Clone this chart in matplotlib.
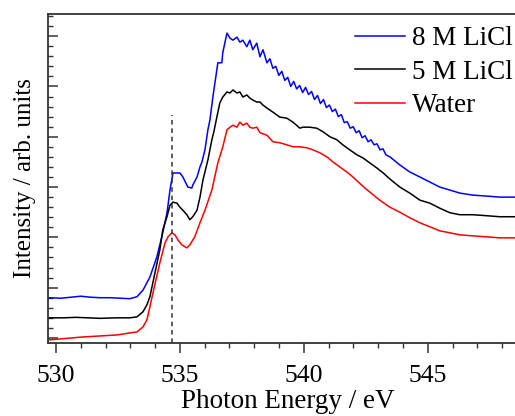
import matplotlib
matplotlib.use("Agg")
import matplotlib.pyplot as plt
from matplotlib.ticker import MultipleLocator

plt.rcParams['font.family'] = ['Liberation Serif', 'DejaVu Serif']

# O K-edge spectra (offset for clarity)
energy_8m = [529.68, 530.2, 530.6, 531.0, 531.4, 531.8, 532.2, 532.6, 532.98, 533.27,
             533.51, 533.79, 534.07, 534.29, 534.48, 534.60, 534.72, 535.00, 535.12, 535.32,
             535.48, 535.52, 535.69, 535.81, 535.89, 536.01, 536.13, 536.21, 536.33, 536.49,
             536.53, 536.69, 536.73, 536.81, 536.90, 537.02, 537.14, 537.30, 537.42, 537.54,
             537.70, 537.82, 537.94, 538.10, 538.23, 538.35, 538.51, 538.63, 538.75, 538.87,
             538.99, 539.11, 539.23, 539.35, 539.47, 539.59, 539.71, 539.83, 539.95, 540.07,
             540.19, 540.31, 540.43, 540.55, 540.67, 540.79, 540.91, 541.03, 541.15, 541.27,
             541.39, 541.51, 541.63, 541.75, 541.87, 541.99, 542.11, 542.23, 542.35, 542.47,
             542.59, 542.71, 542.83, 542.95, 543.07, 543.19, 543.31, 543.47, 543.87, 544.27,
             544.68, 545.08, 545.48, 545.89, 546.29, 546.81, 547.38, 547.90, 548.43, 549.0]
int_8m = [0.80, 0.79, 0.81, 0.83, 0.81, 0.80, 0.80, 0.79, 0.78, 0.82,
          0.95, 1.21, 1.61, 2.05, 2.49, 2.94, 3.28, 3.28, 3.20, 3.00,
          2.98, 3.04, 3.20, 3.40, 3.50, 3.74, 4.14, 4.33, 4.79, 5.33,
          5.47, 5.47, 5.67, 5.86, 6.06, 5.96, 5.92, 5.98, 5.88, 5.92,
          5.79, 5.92, 5.73, 5.86, 5.59, 5.73, 5.47, 5.55, 5.36, 5.40,
          5.22, 5.30, 5.12, 5.18, 5.00, 5.10, 4.95, 5.02, 4.88, 4.98,
          4.84, 4.90, 4.74, 4.82, 4.66, 4.74, 4.58, 4.63, 4.50, 4.55,
          4.40, 4.44, 4.28, 4.30, 4.17, 4.20, 4.08, 4.12, 3.98, 4.02,
          3.90, 3.94, 3.84, 3.86, 3.74, 3.76, 3.64, 3.60, 3.44, 3.30,
          3.20, 3.10, 3.00, 2.94, 2.88, 2.84, 2.82, 2.80, 2.80, 2.80]

energy_5m = [529.68, 530.3, 530.8, 531.3, 531.8, 532.4, 532.98, 533.27, 533.51, 533.67,
             533.79, 534.19, 534.31, 534.48, 534.60, 534.72, 534.88, 535.00, 535.12, 535.28,
             535.40, 535.52, 535.69, 535.81, 535.93, 536.13, 536.29, 536.37, 536.49, 536.61,
             536.73, 536.90, 537.02, 537.14, 537.30, 537.42, 537.54, 537.70, 537.82, 537.94,
             538.10, 538.23, 538.35, 538.51, 538.75, 539.03, 539.31, 539.56, 539.84, 539.96,
             540.24, 540.52, 540.77, 541.05, 541.33, 541.57, 541.85, 542.14, 542.38, 542.66,
             542.94, 543.20, 543.47, 543.87, 544.27, 544.68, 545.08, 545.48, 545.89, 546.29,
             546.81, 547.38, 547.90, 548.43, 549.0]
int_5m = [0.40, 0.40, 0.41, 0.40, 0.39, 0.40, 0.40, 0.42, 0.52, 0.66,
          0.82, 1.75, 2.15, 2.41, 2.64, 2.70, 2.68, 2.60, 2.54, 2.45,
          2.35, 2.41, 2.54, 2.80, 3.14, 3.54, 3.94, 4.10, 4.39, 4.67,
          4.79, 4.89, 4.87, 4.93, 4.87, 4.89, 4.79, 4.83, 4.77, 4.73,
          4.69, 4.69, 4.63, 4.57, 4.49, 4.39, 4.37, 4.29, 4.17, 4.19,
          4.19, 4.17, 4.10, 4.00, 3.94, 3.84, 3.74, 3.64, 3.58, 3.48,
          3.38, 3.28, 3.16, 3.00, 2.88, 2.74, 2.68, 2.58, 2.49, 2.45,
          2.45, 2.43, 2.41, 2.41, 2.41]

energy_water = [529.68, 531.09, 532.46, 532.98, 533.27, 533.51, 533.67, 533.79, 533.91, 534.19,
                534.40, 534.52, 534.68, 534.80, 534.92, 535.08, 535.28, 535.40, 535.60, 535.81,
                536.01, 536.29, 536.53, 536.73, 536.90, 537.02, 537.14, 537.30, 537.42, 537.54,
                537.70, 537.82, 537.94, 538.10, 538.23, 538.51, 538.75, 539.03, 539.31, 539.56,
                539.84, 540.12, 540.36, 540.65, 540.93, 541.17, 541.45, 541.73, 541.98, 542.46,
                543.06, 543.47, 543.87, 544.27, 544.68, 545.08, 545.48, 545.89, 546.29, 546.81,
                547.38, 547.90, 548.43, 549.0]
int_water = [-0.04, 0.02, 0.06, 0.10, 0.12, 0.22, 0.36, 0.62, 0.89, 1.49,
             1.89, 2.01, 2.09, 2.05, 1.95, 1.85, 1.79, 1.85, 2.01, 2.29,
             2.54, 2.94, 3.48, 3.80, 4.14, 4.19, 4.23, 4.19, 4.29, 4.23,
             4.27, 4.19, 4.17, 4.19, 4.08, 4.03, 3.90, 3.88, 3.84, 3.80,
             3.80, 3.78, 3.74, 3.68, 3.60, 3.50, 3.40, 3.30, 3.20, 2.98,
             2.74, 2.60, 2.50, 2.39, 2.29, 2.21, 2.13, 2.09, 2.05, 2.03,
             2.01, 1.99, 1.99, 1.99]

labels = ['8 M LiCl', '5 M LiCl', 'Water']
colors = ['#0000ff', '#000000', '#ff0000']

edge_energy = 534.68
edge_top = 4.43

fig = plt.figure(figsize=(5.15, 4.16), dpi=100)
ax = fig.add_axes([48 / 515, 73 / 416, 479 / 515, 329 / 416])

ax.plot(energy_8m, int_8m, color=colors[0], lw=1.1, label=labels[0])
ax.plot(energy_5m, int_5m, color=colors[1], lw=1.1, label=labels[1])
ax.plot(energy_water, int_water, color=colors[2], lw=1.1, label=labels[2])
ax.vlines(edge_energy, -0.1, edge_top, colors='#333333', linestyles=(0, (3, 2.5)), lw=1.1)

ax.set_xlim(529.68, 549.0)
ax.set_ylim(-0.1, 6.44)

ax.xaxis.set_major_locator(MultipleLocator(5))
ax.xaxis.set_minor_locator(MultipleLocator(1))
ax.yaxis.set_major_locator(MultipleLocator(1))
ax.yaxis.set_minor_locator(MultipleLocator(0.2))
ax.tick_params(axis='x', which='both', direction='out', labelsize=18.5, pad=9, color='#333333')
ax.tick_params(axis='x', which='major', length=7, width=1.1)
ax.tick_params(axis='x', which='minor', length=3.6, width=1.0)
ax.tick_params(axis='y', which='both', direction='in', labelleft=False, color='#333333')
ax.tick_params(axis='y', which='major', length=7, width=1.1)
ax.tick_params(axis='y', which='minor', length=3.6, width=1.0)
for s in ax.spines.values():
    s.set_color('#333333')
    s.set_linewidth(1.3)

ax.set_xlabel('Photon Energy / eV', fontsize=19.5, labelpad=1.5)
ax.set_ylabel('Intensity / arb. units', fontsize=18, labelpad=8.5)

ax.legend(loc='upper left', bbox_to_anchor=(355 / 515, 1 - 26 / 416), bbox_transform=fig.transFigure,
          frameon=False, fontsize=19.5, handlelength=1.85, handletextpad=0.25, labelspacing=0.32,
          borderpad=0, borderaxespad=0)

fig.savefig('out.png', dpi=100)
